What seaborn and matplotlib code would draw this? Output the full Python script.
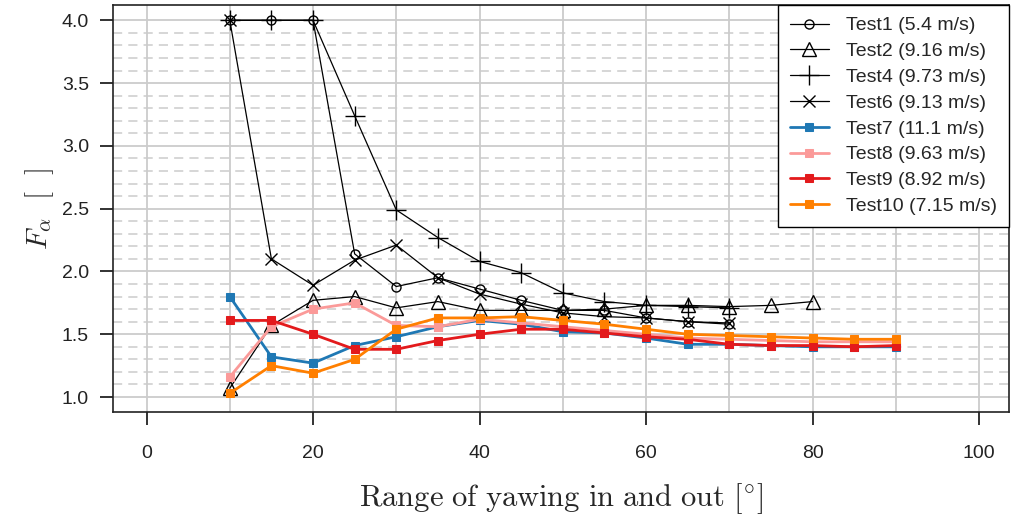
import numpy as np
import pandas as pd
import seaborn as sns
import matplotlib
matplotlib.use("Agg")
import matplotlib.pyplot as plt

# ---------------- data ----------------
x_short = [10, 15, 20, 25, 30, 35, 40, 45, 50, 55, 60, 65, 70]
x_mid = [10, 15, 20, 25, 30, 35, 40, 45, 50, 55, 60, 65, 70, 75, 80]
x_long = [10, 15, 20, 25, 30, 35, 40, 45, 50, 55, 60, 65, 70, 75, 80, 85, 90]

test1 = [4.0, 4.0, 4.0, 2.14, 1.88, 1.95, 1.86, 1.77, 1.69, 1.69, 1.63, 1.60, 1.58]
test2 = [1.07, 1.57, 1.77, 1.80, 1.71, 1.76, 1.69, 1.69, 1.69, 1.70, 1.73, 1.73, 1.72, 1.73, 1.76]
test4 = [4.0, 4.0, 4.0, 3.24, 2.49, 2.27, 2.08, 1.99, 1.83, 1.76, 1.73, 1.72, 1.71]
test6 = [4.0, 2.10, 1.89, 2.09, 2.21, 1.95, 1.82, 1.74, 1.67, 1.64, 1.63, 1.60, 1.59]
test7 = [1.80, 1.32, 1.27, 1.41, 1.48, 1.56, 1.61, 1.58, 1.52, 1.51, 1.47, 1.42, 1.42, 1.41, 1.40, 1.40, 1.40]
test8 = [1.16, 1.56, 1.70, 1.75, 1.57, 1.56, 1.62, 1.59, 1.56, 1.53, 1.50, 1.47, 1.46, 1.45, 1.44, 1.44, 1.44]
test9 = [1.61, 1.61, 1.50, 1.38, 1.38, 1.45, 1.50, 1.54, 1.54, 1.51, 1.48, 1.46, 1.42, 1.41, 1.41, 1.40, 1.41]
test10 = [1.03, 1.25, 1.19, 1.30, 1.54, 1.63, 1.63, 1.64, 1.61, 1.58, 1.54, 1.50, 1.49, 1.48, 1.47, 1.46, 1.46]

labels = ["Test1 (5.4 m/s)", "Test2 (9.16 m/s)", "Test4 (9.73 m/s)", "Test6 (9.13 m/s)",
          "Test7 (11.1 m/s)", "Test8 (9.63 m/s)", "Test9 (8.92 m/s)", "Test10 (7.15 m/s)"]

x_ticks = [0, 20, 40, 60, 80, 100]
y_ticks = [1.0, 1.5, 2.0, 2.5, 3.0, 3.5, 4.0]

# ---------------- style ----------------
sns.set_theme(style="ticks")
plt.rcParams['font.family'] = ['Liberation Sans', 'DejaVu Sans']
plt.rcParams['mathtext.fontset'] = 'cm'

pal = sns.color_palette("Paired")
c_blue, c_pink, c_red, c_orange = pal[1], pal[4], pal[5], pal[7]

fig = plt.figure(figsize=(10.11, 5.21), dpi=100)
ax = fig.add_axes([0.112, 0.209, 0.886, 0.781])

# grid
for gx in range(0, 101, 10):
    ax.axvline(gx, color="#cccccc", lw=1.3, zorder=0)
for gy in np.arange(1.0, 4.01, 0.1):
    if abs(round(gy * 10) % 5) == 0:
        ax.axhline(gy, color="#cccccc", lw=1.3, zorder=0)
    else:
        ax.axhline(gy, color="#cccccc", lw=1.1, ls=(0, (6, 4)), zorder=0)

black_series = [
    (x_short, test1, "o", 6.5),
    (x_mid, test2, "^", 9.5),
    (x_short, test4, "+", 14),
    (x_short, test6, "x", 9),
]
for (xs, ys, mk, ms), lab in zip(black_series, labels[:4]):
    sns.lineplot(x=xs, y=ys, ax=ax, color="black", lw=0.9, marker=mk, markersize=ms,
                 markerfacecolor="none", markeredgecolor="black", markeredgewidth=1.0,
                 label=lab, zorder=3)

col_series = [(test7, c_blue), (test8, c_pink), (test9, c_red), (test10, c_orange)]
for (ys, col), lab in zip(col_series, labels[4:]):
    sns.lineplot(x=x_long, y=ys, ax=ax, color=col, lw=2.0, marker="s", markersize=5.5,
                 markerfacecolor=col, markeredgecolor=col, label=lab, zorder=4)

ax.set_xlim(-4, 103.6)
ax.set_ylim(0.88, 4.12)
ax.set_xticks(x_ticks)
ax.set_yticks(y_ticks)
ax.set_xticklabels([str(v) for v in x_ticks])
ax.set_yticklabels([f"{v:.1f}" for v in y_ticks])
ax.tick_params(axis="both", which="major", direction="out", length=9.4, width=1.3,
               color="#222222", labelcolor="#222222", labelsize=14)
ax.tick_params(axis="x", pad=14)
ax.tick_params(axis="y", pad=8)

for sp in ax.spines.values():
    sp.set_visible(True)
    sp.set_color("#222222")
    sp.set_linewidth(1.2)

ax.set_xlabel(r"$\mathrm{Range\ of\ yawing\ in\ and\ out\ [^{\circ}]}$", fontsize=22, labelpad=14)
ax.set_ylabel(r"$F_{\alpha}\ \ \mathrm{[\ \ ]}$", fontsize=21, labelpad=4)

leg = ax.legend(loc="upper right", bbox_to_anchor=(1.0, 1.0), fontsize=14, frameon=True,
                fancybox=False, edgecolor="black", framealpha=1.0, borderpad=0.6,
                handlelength=2.0, labelspacing=0.42, handletextpad=0.9, borderaxespad=0.0)
leg.get_frame().set_linewidth(1.0)

fig.savefig("out.png", dpi=100)
